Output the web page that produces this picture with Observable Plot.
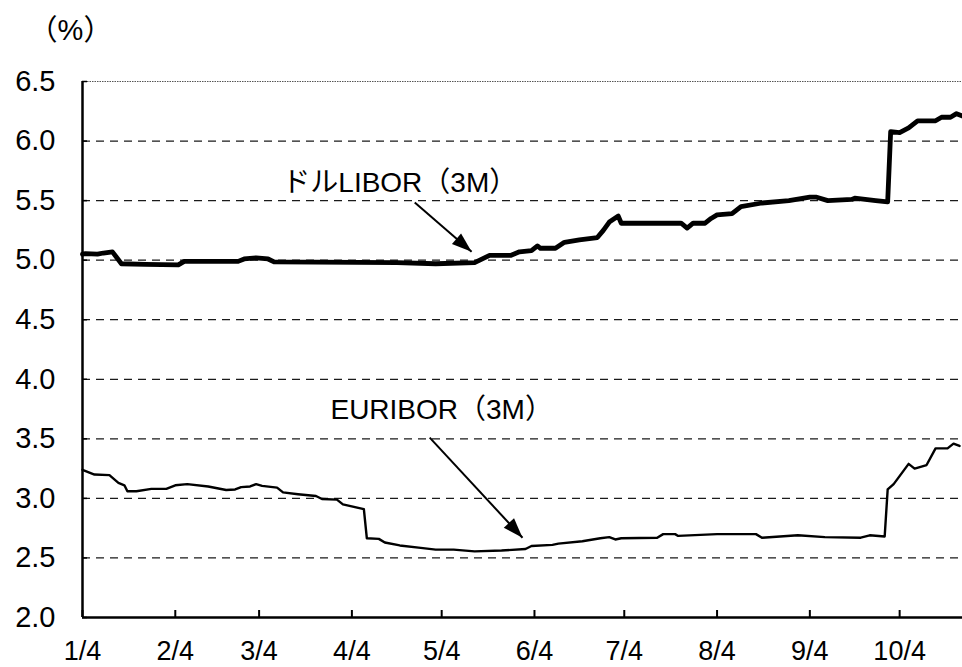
<!DOCTYPE html>
<html>
<head>
<meta charset="utf-8">
<script src="https://cdn.jsdelivr.net/npm/d3@7"></script>
<script src="https://cdn.jsdelivr.net/npm/@observablehq/plot@0.6"></script>
<style>
  html, body { margin: 0; padding: 0; background: #fff; }
  #chart { width: 962px; height: 667px; }
</style>
</head>
<body>
<div id="chart"></div>
<script>
// 3-month dollar LIBOR, daily fixings 1999 (%)
const liborDates = [
  "1999-01-04","1999-01-05","1999-01-09","1999-01-11","1999-01-14","1999-01-17","1999-01-25",
  "1999-02-05","1999-02-07","1999-02-25","1999-02-27","1999-03-03","1999-03-07","1999-03-09",
  "1999-04-19","1999-05-02","1999-05-15","1999-05-20","1999-05-27","1999-05-30","1999-06-03",
  "1999-06-05","1999-06-06","1999-06-11","1999-06-14","1999-06-19","1999-06-25","1999-06-27",
  "1999-06-29","1999-07-02","1999-07-03","1999-07-23","1999-07-25","1999-07-27","1999-07-31",
  "1999-08-02","1999-08-04","1999-08-09","1999-08-12","1999-08-19","1999-08-28","1999-09-04",
  "1999-09-06","1999-09-10","1999-09-18","1999-09-19","1999-09-26","1999-09-30","1999-10-01",
  "1999-10-04","1999-10-07","1999-10-10","1999-10-12","1999-10-16","1999-10-18","1999-10-21",
  "1999-10-23","1999-10-25"
];
const liborValues = [
  5.05, 5.055, 5.05, 5.06, 5.07, 4.97, 4.965,
  4.96, 4.99, 4.99, 5.01, 5.02, 5.01, 4.985,
  4.98, 4.97, 4.98, 5.04, 5.04, 5.07, 5.08,
  5.12, 5.10, 5.10, 5.15, 5.17, 5.19, 5.25,
  5.32, 5.37, 5.31, 5.31, 5.27, 5.31, 5.31,
  5.35, 5.38, 5.39, 5.45, 5.48, 5.50, 5.53,
  5.53, 5.50, 5.51, 5.52, 5.50, 5.49, 6.08,
  6.07, 6.11, 6.17, 6.17, 6.17, 6.20, 6.20,
  6.23, 6.21
];

// 3-month EURIBOR, daily fixings 1999 (%)
const euriborDates = [
  "1999-01-04","1999-01-08","1999-01-13","1999-01-16","1999-01-18","1999-01-19","1999-01-22",
  "1999-01-27","1999-02-01","1999-02-04","1999-02-08","1999-02-15","1999-02-21","1999-02-24",
  "1999-02-26","1999-03-01","1999-03-03","1999-03-05","1999-03-10","1999-03-12","1999-03-17",
  "1999-03-23","1999-03-25","1999-03-30","1999-04-01","1999-04-08","1999-04-09","1999-04-13",
  "1999-04-15","1999-04-20","1999-04-27","1999-05-02","1999-05-08","1999-05-15","1999-05-24",
  "1999-06-01","1999-06-03","1999-06-10","1999-06-12","1999-06-20","1999-06-26","1999-06-29",
  "1999-07-01","1999-07-03","1999-07-15","1999-07-17","1999-07-21","1999-07-22","1999-08-04",
  "1999-08-17","1999-08-19","1999-08-31","1999-09-09","1999-09-21","1999-09-24","1999-09-29",
  "1999-09-30","1999-10-02","1999-10-07","1999-10-09","1999-10-13","1999-10-16","1999-10-20",
  "1999-10-22","1999-10-24"
];
const euriborValues = [
  3.24, 3.20, 3.195, 3.13, 3.11, 3.06, 3.06,
  3.08, 3.08, 3.11, 3.12, 3.10, 3.07, 3.075,
  3.095, 3.10, 3.12, 3.105, 3.09, 3.05, 3.035,
  3.02, 2.995, 2.99, 2.95, 2.91, 2.665, 2.66,
  2.63, 2.605, 2.585, 2.57, 2.57, 2.555, 2.562,
  2.575, 2.60, 2.61, 2.62, 2.64, 2.665, 2.675,
  2.655, 2.665, 2.67, 2.70, 2.70, 2.685, 2.70,
  2.70, 2.67, 2.69, 2.675, 2.67, 2.69, 2.68,
  3.075, 3.12, 3.29, 3.25, 3.28, 3.42, 3.42,
  3.46, 3.44
];

// Axes
const xDomain = ["1999-01-04", "1999-10-25"];
const yDomain = [2.0, 6.5];
const yTicks = [2.0, 2.5, 3.0, 3.5, 4.0, 4.5, 5.0, 5.5, 6.0, 6.5];
const gridValues = [2.5, 3.0, 3.5, 4.0, 4.5, 5.0, 5.5, 6.0];
const xTickDates = ["1999-01-04","1999-02-04","1999-03-04","1999-04-04","1999-05-04",
                    "1999-06-04","1999-07-04","1999-08-04","1999-09-04","1999-10-04"];
const xTickLabels = ["1/4","2/4","3/4","4/4","5/4","6/4","7/4","8/4","9/4","10/4"];
const unitLabel = ["（%）"];

// Series annotations with pointer arrows
const seriesLabels = ["ドルLIBOR（3M）", "EURIBOR（3M）"];
const labelDates = ["1999-04-20", "1999-05-04"];
const labelValues = [5.645, 3.74];
const arrowFromDates = ["1999-04-25", "1999-04-30"];
const arrowFromValues = [5.484, 3.51];
const arrowToDates = ["1999-05-14", "1999-05-31"];
const arrowToValues = [5.07, 2.67];

const parse = d3.utcParse("%Y-%m-%d");
const libor = liborDates.map((d, i) => ({date: parse(d), value: liborValues[i]}));
const euribor = euriborDates.map((d, i) => ({date: parse(d), value: euriborValues[i]}));
const labels = seriesLabels.map((t, i) => ({text: t, date: parse(labelDates[i]), value: labelValues[i]}));
const arrows = seriesLabels.map((t, i) => ({
  x1: parse(arrowFromDates[i]), y1: arrowFromValues[i],
  x2: parse(arrowToDates[i]), y2: arrowToValues[i]
}));
const tickDates = xTickDates.map(parse);
const tickLabelByTime = new Map(tickDates.map((d, i) => [+d, xTickLabels[i]]));

const W = 962, H = 667;
const margin = {top: 81, right: 0, bottom: 50, left: 82};
const x0 = parse(xDomain[0]), x1 = parse(xDomain[1]);

// Same mapping as the plot, used only to orient the arrowheads
const xs = d3.scaleUtc([x0, x1], [margin.left, W - margin.right]);
const ys = d3.scaleLinear(yDomain, [H - margin.bottom, margin.top]);

// Filled triangular arrowhead with its tip at the anchor point
function headSymbol(angle, len = 20, half = 7) {
  const ux = Math.cos(angle), uy = Math.sin(angle);
  return {
    draw(ctx) {
      const bx = -len * ux, by = -len * uy;
      ctx.moveTo(0, 0);
      ctx.lineTo(bx - half * uy, by + half * ux);
      ctx.lineTo(bx + half * uy, by - half * ux);
      ctx.closePath();
    }
  };
}
const headMarks = arrows.map(a => {
  const ang = Math.atan2(ys(a.y2) - ys(a.y1), xs(a.x2) - xs(a.x1));
  return Plot.dot([a], {x: "x2", y: "y2", r: 5, symbol: headSymbol(ang), fill: "black", stroke: "none"});
});

const font = "'Liberation Sans', Arial, 'Noto Sans CJK JP', sans-serif";

const chart = Plot.plot({
  width: W,
  height: H,
  marginTop: margin.top,
  marginRight: margin.right,
  marginBottom: margin.bottom,
  marginLeft: margin.left,
  style: {fontFamily: font, fontSize: "27px", color: "black", background: "white", overflow: "visible"},
  x: {type: "utc", domain: [x0, x1], label: null},
  y: {domain: yDomain, label: null},
  marks: [
    // dashed horizontal gridlines and the dotted top edge
    Plot.ruleY(gridValues, {stroke: "#1a1a1a", strokeWidth: 1.2, strokeDasharray: "8,6"}),
    Plot.ruleY([yDomain[1]], {stroke: "#555", strokeWidth: 1.2, strokeDasharray: "1.5,1"}),
    // axis lines
    Plot.ruleX([x0], {stroke: "black", strokeWidth: 2.5}),
    Plot.ruleY([yDomain[0]], {stroke: "black", strokeWidth: 2.5}),
    // inward ticks
    Plot.axisY({ticks: yTicks, tickSize: 5, dx: 5, tickFormat: () => "", strokeWidth: 1.5}),
    Plot.axisX({ticks: tickDates, tickSize: 7, dy: -7, tickFormat: () => "", strokeWidth: 2}),
    // tick labels
    Plot.axisY({ticks: yTicks, tickSize: 0, tickPadding: 27, tickFormat: d3.format(".1f"), fontSize: 29}),
    Plot.axisX({ticks: tickDates, tickSize: 0, tickPadding: 23, tickFormat: d => tickLabelByTime.get(+d), fontSize: 27}),
    // series
    Plot.line(euribor, {x: "date", y: "value", stroke: "black", strokeWidth: 2.4, strokeLinejoin: "round"}),
    Plot.line(libor, {x: "date", y: "value", stroke: "black", strokeWidth: 4.8, strokeLinejoin: "round"}),
    // annotations
    Plot.link(arrows, {x1: "x1", y1: "y1", x2: "x2", y2: "y2", stroke: "black", strokeWidth: 2}),
    ...headMarks,
    Plot.text(labels, {x: "date", y: "value", text: "text", fontSize: 28, textAnchor: "middle", lineAnchor: "middle", fill: "black"}),
    // unit
    Plot.text(unitLabel, {frameAnchor: "top-left", text: d => d, dx: -12, dy: -62, fontSize: 29, textAnchor: "middle", fill: "black"})
  ]
});

document.getElementById("chart").appendChild(chart);
</script>
</body>
</html>
